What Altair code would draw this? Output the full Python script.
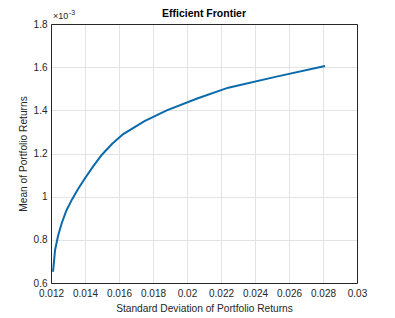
import altair as alt
import pandas as pd

# Efficient frontier points
std_dev = [0.01212, 0.01224, 0.01242, 0.01263, 0.01290, 0.01322, 0.01360, 0.01400,
           0.01448, 0.01498, 0.01560, 0.01625, 0.01750, 0.01881, 0.02060, 0.02243,
           0.02520, 0.02812]
mean_ret = [0.000652, 0.000753, 0.000820, 0.000877, 0.000935, 0.000985, 0.001037, 0.001085,
            0.001140, 0.001193, 0.001245, 0.001290, 0.001350, 0.001400, 0.001455, 0.001505,
            0.001555, 0.001605]

x_ticks = [0.012, 0.014, 0.016, 0.018, 0.020, 0.022, 0.024, 0.026, 0.028, 0.030]
y_ticks = [0.0006, 0.0008, 0.0010, 0.0012, 0.0014, 0.0016, 0.0018]

chart_title = "Efficient Frontier"

df = pd.DataFrame({"sd": std_dev, "mu": mean_ret, "order": list(range(len(std_dev)))})
one = pd.DataFrame({"k": [0]})

AX = "#262626"
GRID = "#e3e3e3"
FONT = "Liberation Sans"

xs = alt.Scale(domain=[0.012, 0.030], nice=False, zero=False)
ys = alt.Scale(domain=[0.0006, 0.0018], nice=False, zero=False)

line = alt.Chart(df).mark_line(color="#0A6AAA", strokeWidth=2).encode(
    x=alt.X("sd:Q", scale=xs,
            axis=alt.Axis(values=x_ticks, labelExpr="format(datum.value, '.3~f')",
                          title="Standard Deviation of Portfolio Returns",
                          grid=True, gridColor=GRID, domainColor=AX, tickColor=AX,
                          tickSize=0, labelPadding=5, labelColor=AX, labelFontSize=10,
                          labelFlush=False, labelOverlap=False,
                          labelFont=FONT, titleFont=FONT, titleFontSize=10.2,
                          titleFontWeight="normal", titleColor=AX, titlePadding=5)),
    y=alt.Y("mu:Q", scale=ys,
            axis=alt.Axis(values=y_ticks, labelExpr="format(datum.value*1000, '.1~f')",
                          title="Mean of Portfolio Returns",
                          grid=True, gridColor=GRID, domainColor=AX, tickColor=AX,
                          tickSize=0, labelPadding=4, labelColor=AX, labelFontSize=10,
                          labelFlush=False, labelOverlap=False,
                          labelFont=FONT, titleFont=FONT, titleFontSize=10.2,
                          titleFontWeight="normal", titleColor=AX, titlePadding=5)),
    order="order:Q",
)

frame = alt.Chart(df).mark_line(opacity=0).encode(
    x=alt.X("sd:Q", scale=xs,
            axis=alt.Axis(orient="top", values=x_ticks, labels=False, title=None,
                          grid=False, domainColor=AX, tickSize=0)),
    y=alt.Y("mu:Q", scale=ys,
            axis=alt.Axis(orient="right", values=y_ticks, labels=False, title=None,
                          grid=False, domainColor=AX, tickSize=0)),
)

title_mark = alt.Chart(one).mark_text(align="center", baseline="alphabetic", font=FONT,
                                      fontSize=10.5, fontWeight="bold", color="#000000").encode(
    x=alt.value(153), y=alt.value(-7), text=alt.value(chart_title))
exp_base = alt.Chart(one).mark_text(align="left", baseline="alphabetic", font=FONT,
                                    fontSize=9, color=AX).encode(
    x=alt.value(2), y=alt.value(-5), text=alt.value("×10"))
exp_pow = alt.Chart(one).mark_text(align="left", baseline="alphabetic", font=FONT,
                                   fontSize=7, color=AX).encode(
    x=alt.value(18), y=alt.value(-9), text=alt.value("-3"))

chart = alt.layer(line, frame, title_mark, exp_base, exp_pow).resolve_scale(
    x="shared", y="shared"
).resolve_axis(
    x="independent", y="independent"
).properties(
    width=306, height=259,
    autosize=alt.AutoSizeParams(type="none"),
    padding={"left": 51, "top": 24, "right": 38, "bottom": 35},
).configure_view(stroke=None).configure(background="white")

chart.save("out.html", embed_options={"renderer": "svg", "actions": False})
